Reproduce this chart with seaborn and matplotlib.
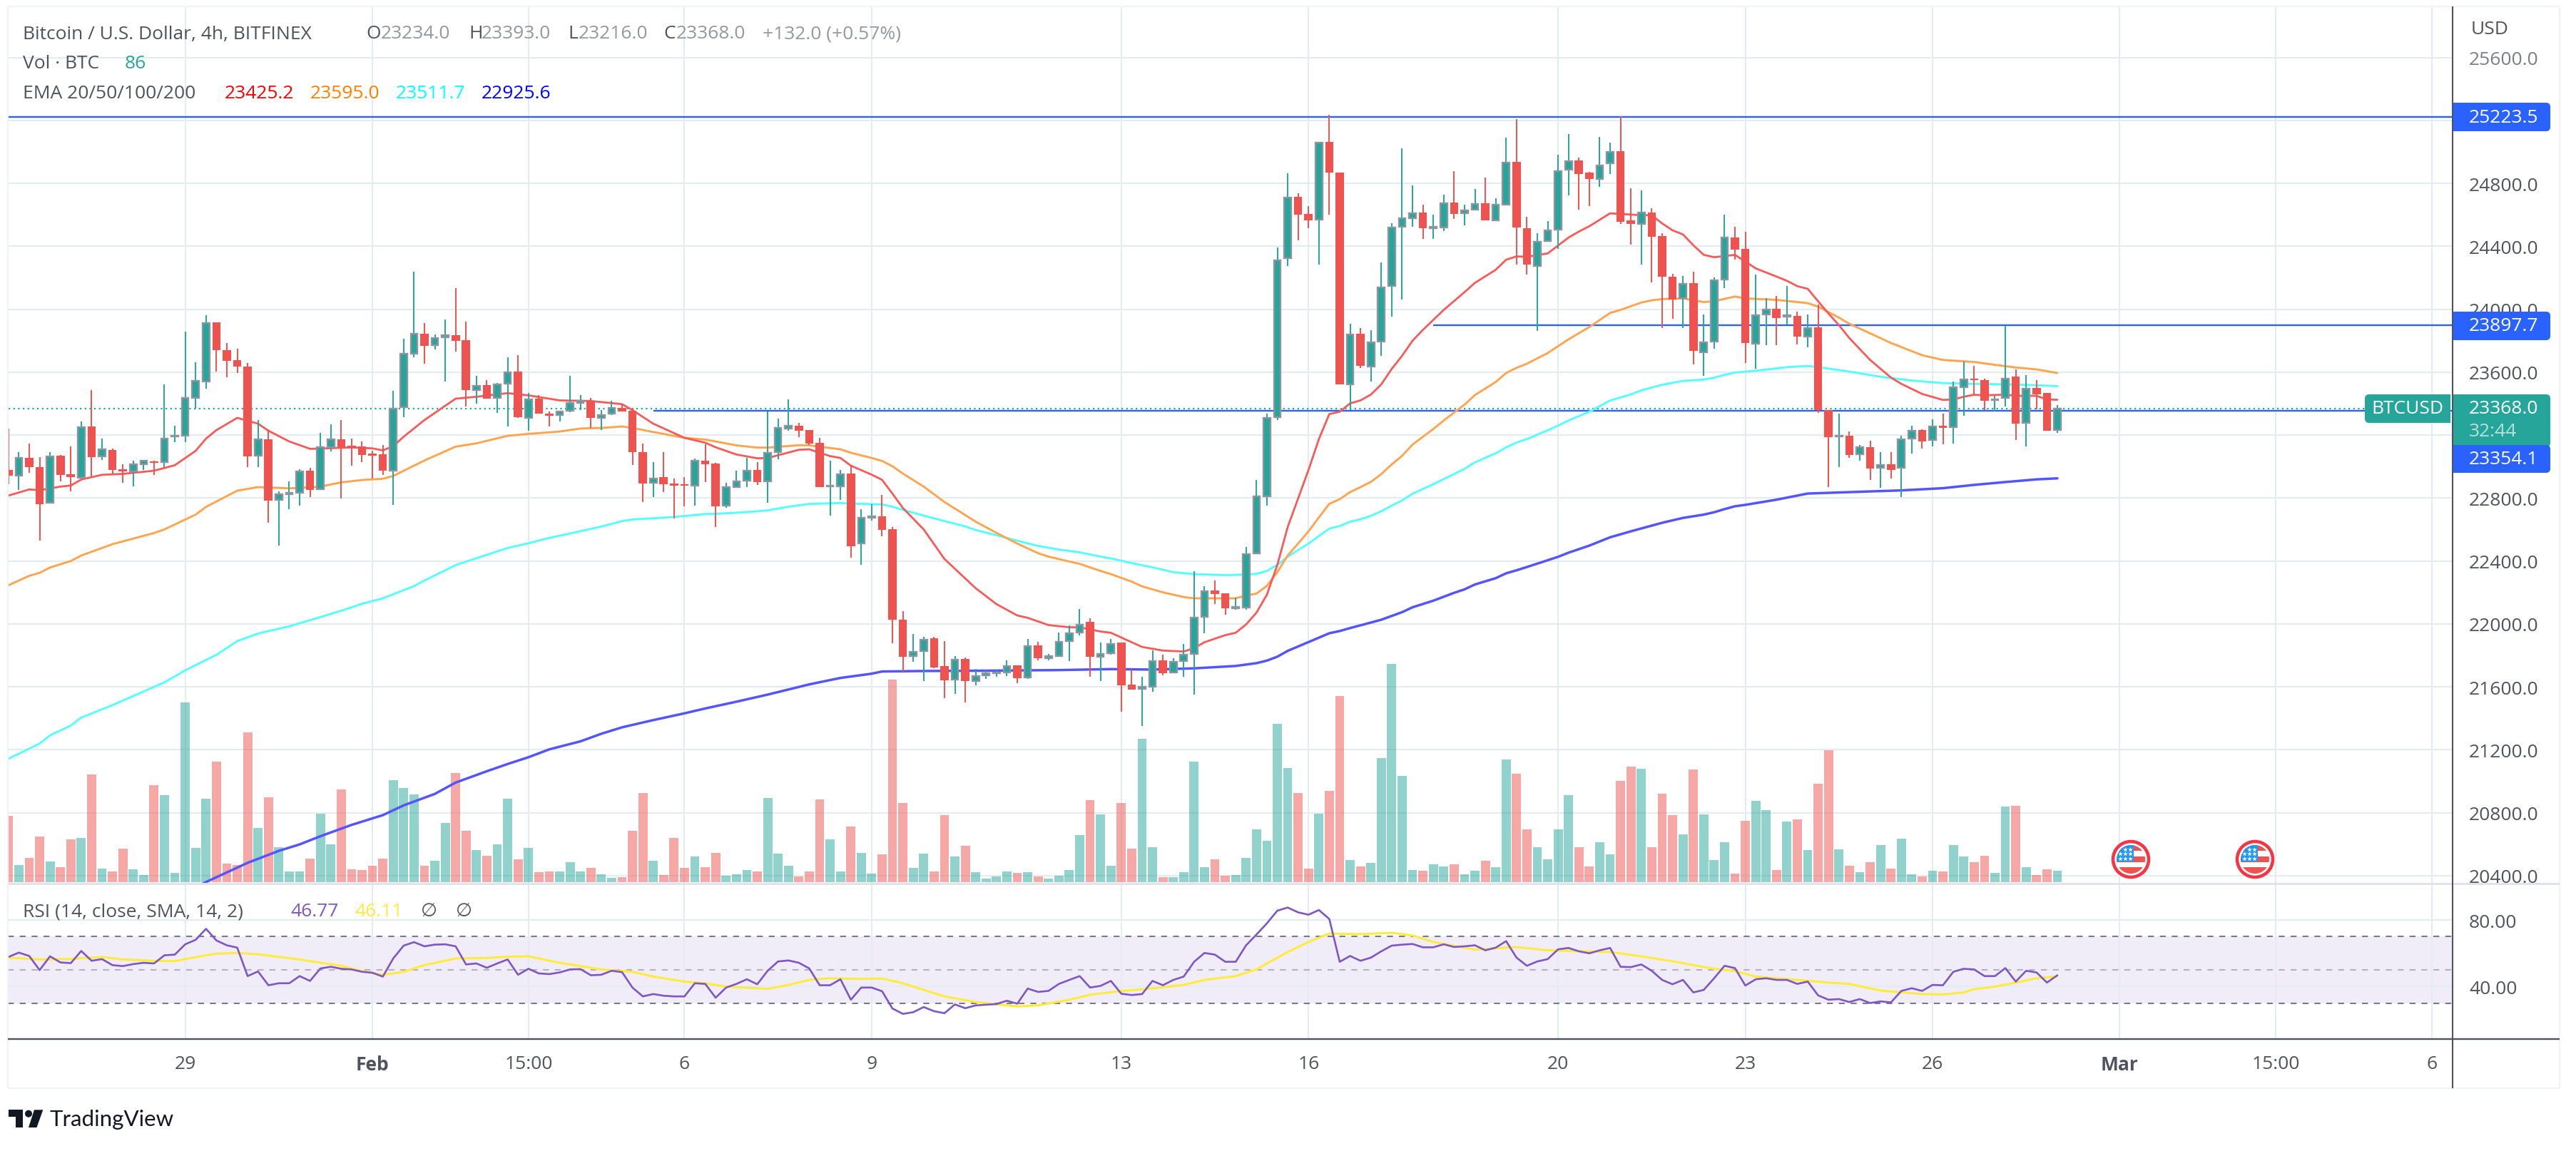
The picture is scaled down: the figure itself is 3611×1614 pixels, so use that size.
import numpy as np
import pandas as pd
import matplotlib
matplotlib.use("Agg")
import matplotlib.pyplot as plt
from matplotlib.patches import Rectangle, Circle, FancyBboxPatch, Polygon
import seaborn as sns

# ---------- data ----------
first_candle = -17
open_prices = [
22979,22941,23054,22999,22770,23069,22951,22930,23255,23063,
23106,22983,22971,23013,23033,23027,23190,23196,23435,23539,
23917,23740,23677,23636,23069,23172,22787,22826,22832,22973,
22855,23125,23172,23131,23127,23081,23078,22976,23376,23719,
23843,23770,23820,23834,23802,23486,23516,23435,23526,23603,
23308,23432,23335,23326,23353,23406,23417,23311,23335,23374,
23355,23092,22896,22932,22891,22886,22880,23036,23020,22752,
22870,22911,22978,22907,23092,23240,23259,23231,23150,22873,
22873,22955,22511,22674,22684,22603,22027,21796,21828,21910,
21731,21647,21778,21638,21672,21686,21692,21737,21659,21864,
21783,21798,21891,21944,22012,21792,21813,21882,21615,21586,
21601,21767,21693,21764,21808,22045,22212,22193,22100,22103,
22450,22813,23314,24324,24714,24606,24568,25063,24870,23522,
23845,23635,23793,24147,24525,24577,24615,24516,24518,24678,
24610,24632,24672,24567,24667,24936,24514,24277,24435,24508,
24889,24945,24867,24830,24926,25005,24565,24542,24615,24464,
24209,24069,24166,23727,23795,24188,24456,24384,23779,23968,
24001,23953,23958,23826,23885,23358,23190,23196,23080,23122,
22992,23013,22992,23177,23231,23169,23259,23252,23505,23559,
23552,23422,23436,23571,23276,23500,23467,23234]
high_prices = [
23240,23092,23145,23060,23092,23075,23127,23287,23486,23178,
23115,23013,23038,23042,23038,23522,23260,23858,23663,23962,
23917,23784,23749,23658,23294,23236,22843,22906,22983,22992,
23214,23269,23294,23178,23160,23100,23136,23482,23813,24239,
23912,23840,23933,24134,23920,23575,23548,23530,23693,23708,
23467,23455,23349,23356,23575,23455,23435,23359,23417,23402,
23371,23145,23029,23092,22923,22932,23051,23142,23024,22896,
22975,23056,23027,23349,23306,23427,23276,23231,23181,23036,
22978,23005,22730,22763,22820,22616,22082,21937,21919,21919,
21891,21796,21789,21713,21704,21707,21767,21737,21903,21885,
21810,21944,21990,22095,22036,21881,21903,21882,21710,21665,
21831,21804,21783,21873,22336,22239,22277,22193,22169,22488,
22916,23335,24393,24863,24737,24655,25061,25236,24870,23907,
23881,23868,24298,24549,25023,24787,24667,24601,24728,24879,
24665,24764,24837,24705,25090,25208,24587,24483,24561,24983,
25113,24962,24875,25096,25059,25226,24769,24756,24641,24482,
24225,24211,24237,23965,24204,24601,24525,24492,24221,24070,
24084,24147,23986,23966,24031,23358,23335,23222,23137,23163,
23092,23092,23196,23262,23236,23300,23335,23543,23670,23640,
23557,23450,23895,23618,23581,23550,23470,23393]
low_prices = [
22890,22853,22961,22531,22765,22906,22843,22926,22936,23042,
22953,22899,22876,22979,22948,22997,23155,23157,23368,23495,
23604,23568,23595,22997,22997,22643,22498,22729,22752,22806,
22855,23097,22797,23006,23029,22923,22945,22757,23314,23696,
23655,23746,23542,23731,23384,23402,23432,23341,23255,23311,
23229,23337,23255,23287,23346,23361,23246,23231,23326,23352,
23012,22775,22806,22838,22669,22749,22752,22903,22617,22740,
22870,22870,22884,22771,23045,23228,23189,23137,22872,22691,
22790,22423,22378,22657,22559,21879,21698,21760,21639,21719,
21529,21556,21499,21610,21653,21665,21671,21625,21653,21767,
21770,21798,21764,21929,21665,21635,21805,21443,21585,21353,
21567,21675,21689,21665,21551,21941,22126,22058,22091,22091,
22450,22752,23297,24277,24440,24514,24286,24601,23522,23358,
23625,23543,23705,23953,24060,24525,24449,24447,24499,24574,
24534,24632,24563,24560,24667,24282,24221,23864,24428,24384,
24724,24632,24655,24778,24861,24541,24410,24282,24173,23883,
23942,23883,23651,23578,23751,24135,24315,23661,23623,23774,
23774,23904,23777,23758,23340,22872,22999,23058,23037,22915,
22867,22924,22808,23084,23115,23127,23144,23146,23323,23453,
23361,23349,23384,23170,23130,23366,23228,23216]
close_prices = [
22944,23054,22998,22763,23066,22948,22933,23249,23062,23109,
22979,22970,23013,23036,23025,23180,23196,23435,23544,23911,
23742,23674,23636,23066,23172,22785,22826,22832,22971,22853,
23125,23172,23125,23119,23074,23071,22974,23370,23719,23846,
23769,23819,23834,23800,23488,23515,23433,23522,23601,23316,
23429,23337,23323,23352,23406,23418,23311,23326,23374,23352,
23092,22894,22926,22889,22880,22877,23036,23016,22748,22869,
22908,22976,22904,23089,23245,23259,23228,23148,22872,22878,
22953,22496,22677,22683,22600,22029,21793,21825,21902,21725,
21644,21775,21635,21671,21686,21693,21734,21656,21861,21783,
21798,21888,21943,21997,21793,21811,21875,21612,21585,21600,
21764,21689,21761,21805,22042,22209,22190,22100,22109,22443,
22813,23311,24312,24710,24603,24567,25061,24870,23522,23842,
23642,23791,24140,24521,24580,24612,24516,24525,24676,24608,
24629,24671,24567,24667,24934,24521,24282,24428,24502,24880,
24943,24861,24830,24915,25002,24558,24541,24613,24462,24209,
24064,24164,23738,23791,24185,24457,24379,23786,23963,23998,
23946,23961,23828,23883,23358,23189,23196,23075,23125,22990,
23011,22981,23176,23228,23162,23255,23248,23505,23555,23550,
23418,23429,23561,23274,23496,23460,23228,23368]
volumes = [
204,52,74,140,63,46,131,136,331,41,
33,103,39,22,298,267,28,552,105,256,
370,57,52,460,166,261,107,33,33,72,
210,116,285,39,37,50,72,313,289,270,
50,66,182,335,158,98,81,116,256,70,
105,30,33,33,61,33,44,24,14,16,
158,274,66,22,136,44,79,46,90,20,
24,37,33,259,87,50,18,33,254,131,
33,171,90,26,85,623,243,44,87,33,
206,79,112,30,11,18,33,28,30,17,
11,20,37,145,252,208,50,243,103,441,
107,15,15,30,370,46,70,20,22,74,
162,127,487,351,274,41,210,280,572,68,
48,59,381,671,327,37,35,55,48,55,
24,35,66,46,377,333,162,107,70,162,
267,107,48,123,85,311,355,348,107,272,
206,147,346,208,68,123,26,188,250,221,
37,186,193,98,302,405,101,50,30,61,
114,41,134,24,17,35,33,114,79,61,
81,28,232,234,46,22,39,35]
rsi_values = [
57.8,60.4,58.4,49.9,58.2,54.5,54.1,61.4,55.5,56.5,
52.9,52.3,53.5,54.3,53.9,58.8,59.2,65.4,68.1,74.7,
67.7,64.8,63.4,46.3,49.1,40.8,42.0,42.0,46.3,43.4,
50.9,51.9,50.7,50.3,48.9,48.3,46.0,56.9,64.6,66.7,
64.2,65.2,65.4,64.2,53.3,53.9,51.3,53.9,56.3,47.1,
50.7,47.9,47.5,48.5,50.3,50.5,46.8,47.1,49.5,48.7,
39.4,34.1,35.5,34.5,34.1,34.1,42.0,41.6,33.3,39.4,
41.6,44.4,41.4,49.5,55.1,55.7,54.3,50.9,40.8,40.8,
44.4,32.1,39.4,39.4,37.2,26.8,23.6,24.6,27.7,25.2,
24.0,29.3,27.0,28.7,29.1,29.5,31.5,29.7,38.8,36.8,
37.4,41.6,44.0,46.3,39.4,40.4,43.4,35.7,34.9,35.5,
43.4,40.8,44.0,46.0,54.9,60.2,59.2,54.9,54.9,64.8,
71.3,78.0,85.6,87.5,84.6,83.2,86.0,80.6,54.9,58.4,
55.5,57.4,61.2,64.6,65.2,65.6,63.6,63.6,65.4,63.8,
64.2,64.8,61.8,63.4,67.3,57.4,52.5,55.1,56.5,62.4,
63.2,61.2,60.0,61.8,63.2,51.9,51.7,53.3,49.5,44.0,
41.4,44.0,36.5,38.0,45.0,52.5,51.1,40.6,44.4,45.0,
44.0,44.0,41.6,43.0,34.7,32.1,32.5,30.7,32.5,30.1,
31.1,30.5,37.4,39.0,37.4,41.0,40.8,48.9,50.7,50.3,
46.3,46.3,51.1,43.0,49.5,48.5,42.4,46.77]

ema20_points = [(-17,22816),(-15,22855),(-14,22850),(-12,22873),(-11,22880),(-10,22918),(-8,22948),(-6,22954),(-3,22974),(-1,23009),
(1,23100),(2,23178),(3,23232),(5,23310),(7,23273),(8,23228),(10,23160),(12,23113),(13,23115),(16,23122),(18,23116),(19,23103),
(20,23130),(21,23190),(23,23296),(26,23432),(28,23444),(31,23467),(33,23453),(36,23421),(39,23417),(42,23397),(43,23359),(45,23273),
(48,23183),(50,23152),(51,23123),(53,23077),(55,23053),(56,23055),(59,23107),(60,23110),(62,23067),(63,23055),(64,23006),(66,22949),
(67,22916),(68,22828),(69,22737),(71,22601),(73,22413),(76,22227),(78,22126),(80,22054),(81,22039),(83,21993),(85,21979),(86,21979),
(88,21952),(89,21944),(91,21884),(92,21854),(94,21831),(96,21825),(97,21846),(98,21884),(100,21929),(101,21944),(102,21997),(103,22072),
(104,22186),(105,22375),(106,22616),(107,22798),(108,22979),(109,23175),(110,23334),(111,23349),(112,23402),(113,23421),(114,23458),
(115,23523),(116,23621),(117,23705),(118,23800),(119,23869),(121,23996),(123,24109),(124,24168),(126,24251),(127,24315),(128,24336),
(129,24334),(131,24355),(133,24456),(134,24494),(135,24528),(137,24610),(138,24606),(140,24598),(141,24598),(142,24546),(143,24502),
(144,24476),(145,24407),(146,24346),(147,24331),(149,24346),(150,24303),(151,24260),(153,24208),(154,24181),(155,24147),(156,24130),
(157,24051),(158,23973),(159,23899),(160,23817),(162,23678),(164,23566),(165,23526),(167,23462),(169,23424),(170,23427),(171,23444),
(172,23457),(173,23453),(175,23458),(176,23450),(178,23450),(179,23427),(180,23425.2)]
ema50_points = [(-17,22246),(-15,22306),(-14,22325),(-13,22359),(-11,22400),(-10,22435),(-7,22507),(-3,22578),(-2,22601),(1,22695),(2,22744),
(5,22847),(7,22870),(10,22862),(11,22865),(13,22873),(15,22900),(17,22915),(19,22923),(20,22941),(23,23039),(26,23127),(28,23148),(31,23196),
(33,23208),(36,23223),(38,23242),(40,23246),(42,23255),(43,23246),(45,23220),(48,23183),(50,23172),(51,23160),(53,23135),(55,23121),(56,23121),
(59,23136),(60,23135),(63,23110),(64,23088),(66,23055),(67,23036),(68,23002),(69,22956),(71,22873),(73,22775),(75,22692),(76,22650),(78,22579),
(80,22511),(82,22450),(83,22428),(85,22397),(86,22382),(88,22337),(89,22317),(91,22269),(92,22239),(94,22201),(96,22171),(97,22163),(101,22163),
(102,22181),(103,22193),(104,22242),(105,22329),(106,22435),(107,22511),(108,22589),(109,22677),(110,22764),(111,22793),(112,22838),(113,22870),
(114,22903),(115,22953),(116,23014),(117,23069),(118,23140),(119,23190),(120,23239),(121,23293),(122,23344),(123,23394),(124,23455),(125,23496),
(126,23538),(127,23595),(128,23628),(129,23654),(131,23722),(133,23809),(135,23887),(137,23977),(138,23996),(140,24043),(141,24057),(142,24065),
(144,24069),(146,24046),(147,24051),(149,24081),(150,24069),(153,24060),(156,24039),(157,24017),(159,23947),(160,23908),(164,23786),(167,23708),
(169,23678),(172,23665),(174,23647),(176,23630),(178,23618),(180,23595.0)]
ema100_points = [(-17,21143),(-14,21240),(-13,21292),(-11,21354),(-10,21405),(-7,21484),(-2,21629),(0,21705),(3,21804),(5,21891),(7,21939),(10,21985),
(12,22024),(15,22084),(17,22128),(19,22163),(20,22189),(22,22241),(23,22276),(26,22374),(31,22483),(33,22513),(35,22547),(37,22575),(40,22619),
(42,22654),(43,22664),(45,22672),(47,22680),(49,22692),(50,22699),(51,22700),(53,22707),(55,22716),(56,22722),(58,22745),(60,22763),(63,22769),
(64,22765),(67,22760),(68,22745),(69,22725),(71,22689),(73,22654),(75,22620),(76,22597),(78,22564),(80,22529),(82,22496),(84,22473),(86,22455),
(88,22428),(89,22417),(91,22387),(93,22360),(95,22329),(97,22317),(100,22310),(102,22314),(103,22319),(104,22337),(105,22375),(106,22427),(107,22470),
(108,22511),(109,22559),(110,22606),(111,22622),(112,22650),(113,22666),(114,22687),(115,22717),(116,22752),(117,22785),(118,22828),(119,22858),
(120,22888),(121,22921),(122,22953),(123,22986),(124,23027),(126,23085),(127,23122),(128,23153),(129,23175),(131,23231),(132,23261),(133,23293),
(135,23349),(137,23420),(139,23459),(140,23485),(142,23520),(144,23545),(146,23553),(147,23565),(148,23583),(149,23598),(151,23609),(154,23632),
(156,23640),(158,23623),(160,23604),(163,23571),(166,23547),(169,23531),(172,23526),(176,23522),(180,23511.7)]
ema200_points = [(1,20325),(2,20360),(6,20482),(9,20558),(11,20599),(13,20651),(16,20723),(19,20785),(21,20847),(24,20920),(26,20992),(29,21064),
(31,21110),(33,21153),(35,21203),(38,21254),(40,21302),(42,21343),(45,21389),(48,21432),(50,21463),(53,21506),(56,21551),(60,21616),(63,21657),
(66,21684),(67,21698),(71,21701),(77,21703),(84,21707),(89,21713),(93,21710),(97,21718),(101,21733),(103,21751),(104,21767),(105,21792),(106,21829),
(108,21885),(110,21941),(111,21955),(112,21974),(114,22009),(115,22027),(117,22075),(118,22106),(120,22148),(122,22198),(123,22220),(124,22251),
(126,22291),(127,22322),(128,22341),(129,22362),(131,22405),(132,22427),(133,22453),(135,22498),(137,22551),(139,22589),(142,22643),(144,22674),
(146,22695),(147,22710),(148,22730),(149,22748),(150,22757),(153,22790),(156,22829),(160,22838),(165,22849),(169,22863),(172,22884),(175,22902),
(178,22919),(180,22925.6)]
rsi_sma_points = [(-17,57.4),(-14,56.3),(-11,56.6),(-8,57.8),(-6,56.3),(-3,55.5),(-1,55.3),(2,58.8),(3,59.8),(5,60.2),(7,59.4),(11,56.3),(12,55.3),
(15,52.5),(17,49.3),(19,47.0),(21,48.9),(23,52.9),(26,56.9),(29,57.2),(31,58.0),(33,58.2),(36,54.3),(40,50.3),(43,48.9),(45,46.0),(48,43.0),(50,42.0),
(52,40.0),(56,38.6),(58,41.0),(60,44.0),(62,45.0),(64.5,44.6),(67,44.8),(69,42.0),(71,38.0),(73,34.1),(76,30.7),(78,29.3),(80,28.1),(82,28.7),(85,32.1),
(87,35.1),(90,37.4),(92.5,38.6),(96,41.0),(98,44.0),(101,46.3),(103,50.3),(104,53.9),(106,60.8),(108,66.8),(110,71.9),(113,71.5),(116,72.3),(118,70.7),
(120,66.8),(124,62.2),(128,63.8),(131,61.8),(134,61.2),(137,60.8),(140,58.2),(143,55.2),(145,52.9),(146.8,50.9),(149,49.3),(151,46.0),(155,44.0),
(158,42.4),(160,41.6),(163,37.6),(167,35.5),(169,35.3),(171,36.5),(172,38.4),(174,40.0),(176,42.4),(178,45.0),(180,46.11)]

price_ticks = list(range(20400, 25601, 400))
hidden_price_labels = [25200, 23200]
time_tick_pos = [0, 18, 33, 48, 66, 90, 108, 132, 150, 168, 186, 201, 216]
time_tick_labels = ["29", "Feb", "15:00", "6", "9", "13", "16", "20", "23", "26", "Mar", "15:00", "6"]
drawn_levels = [(25223.5, -17), (23897.7, 120), (23354.1, 45)]
last_close = 23368.0

# ---------- style ----------
sns.set_theme(style="white")
plt.rcParams["font.family"] = ["Open Sans", "DejaVu Sans"]
W, H, DPI = 3612, 1615, 100
FS = 19
DARK, GRAY = "#50535e", "#9598a1"
GREEN, RED, BLUE = "#26a69a", "#ef5350", "#2962ff"
GRID = "#e4ecf2"

fig = plt.figure(figsize=(W / DPI, H / DPI), dpi=DPI, facecolor="white")

def pane(l, t, r, b, z):
    a = fig.add_axes([l / W, 1 - b / H, (r - l) / W, (b - t) / H])
    a.set_zorder(z)
    return a

ax = pane(11.5, 10, 3438, 1240, 1)
ax_rsi = pane(11.5, 1240, 3438, 1457.7, 1)
ax_vol = pane(11.5, 10, 3438, 1240, 2)
ax_c = pane(11.5, 10, 3438, 1240, 3)
XLIM = (-17.02, 218.0)
YLIM = (20350, 25925)

idx = np.arange(first_candle, first_candle + len(open_prices))
df = pd.DataFrame(dict(idx=idx, o=open_prices, h=high_prices, l=low_prices, c=close_prices,
                       vol=volumes, rsi=rsi_values))
df["dir"] = np.where(df.c >= df.o, "up", "down")

# grid / axis panes
for a in (ax, ax_rsi):
    a.set_xlim(*XLIM)
    a.set_xticks(time_tick_pos)
    a.grid(True, color=GRID, lw=1.5)
    a.set_axisbelow(True)
    for s in a.spines.values():
        s.set_visible(False)
    a.yaxis.tick_right()
    a.tick_params(length=0, labelsize=FS, labelcolor=DARK, pad=16.5)
ax.set_ylim(*YLIM)
ax.set_yticks(price_ticks)
ax.set_yticklabels(["" if p in hidden_price_labels else f"{p:.1f}" for p in price_ticks])
ax.tick_params(axis="x", labelbottom=False)
for lab in ax.get_yticklabels():
    if lab.get_text() == "25600.0":
        lab.set_alpha(0.75)
ax_rsi.set_ylim(8.6, 101.9)
ax_rsi.set_yticks([40, 80])
ax_rsi.set_yticklabels(["40.00", "80.00"])
ax_rsi.set_xticklabels(time_tick_labels)
ax_rsi.tick_params(axis="x", pad=16)
for lab in ax_rsi.get_xticklabels():
    if lab.get_text() in ("Feb", "Mar"):
        lab.set_fontweight("bold")

# volume
sns.barplot(data=df, x="idx", y="vol", hue="dir", palette={"up": GREEN, "down": RED},
            native_scale=True, dodge=False, width=0.88, alpha=0.5, linewidth=0,
            saturation=1, legend=False, ax=ax_vol)
ax_vol.set_xlim(*XLIM)
ax_vol.set_ylim(-4.4, 2693)
ax_vol.axis("off")

# levels, EMAs, candles
ax_c.set_xlim(*XLIM)
ax_c.set_ylim(*YLIM)
for lvl, start in drawn_levels:
    ax_c.hlines(lvl, start, XLIM[1], color=BLUE, lw=1.7, zorder=1)
ax_c.hlines(last_close, XLIM[0], 209.6, color=GREEN, lw=1.6, linestyles=[(0, (1, 2))], zorder=1)
for pts, col, lw in [(ema200_points, "#5555ff", 2.5), (ema100_points, "#55ffff", 2.1),
                     (ema50_points, "#ffa550", 2.1), (ema20_points, "#f85a5a", 2.0)]:
    xs, ys = zip(*pts)
    sns.lineplot(x=list(xs), y=list(ys), color=col, lw=lw, sort=False, errorbar=None,
                 legend=False, ax=ax_c, zorder=2)
up = df[df.dir == "up"]
down = df[df.dir == "down"]
ax_c.vlines(up.idx, up.l, up.h, color=GREEN, lw=1.4, zorder=3)
ax_c.vlines(down.idx, down.l, down.h, color=RED, lw=1.4, zorder=3)
ax_c.bar(down.idx, down.c - down.o, bottom=down.o, width=0.8, color=RED, linewidth=0, zorder=4)
ax_c.bar(up.idx, up.c - up.o, bottom=up.o, width=0.66, color=GREEN,
         edgecolor="#8f949e", linewidth=1.7, zorder=4)
ax_c.set_xlabel(""); ax_c.set_ylabel("")
ax_c.axis("off")

# RSI pane
ax_rsi.axhspan(30, 70, color="#7e57c2", alpha=0.1, lw=0, zorder=0.5)
for lev, col in [(70, "#787b86"), (30, "#787b86"), (50, "#b4b2bc")]:
    ax_rsi.axhline(lev, color=col, lw=1.5, ls=(0, (4, 4)), zorder=1)
sns.lineplot(x=df.idx.values, y=rsi_values, color="#7e57c2", lw=1.9, errorbar=None,
             legend=False, ax=ax_rsi, zorder=3)
xs, ys = zip(*rsi_sma_points)
sns.lineplot(x=list(xs), y=list(ys), color="#ffeb3b", lw=2.2, sort=False, errorbar=None,
             legend=False, ax=ax_rsi, zorder=2)
ax_rsi.set_xlabel(""); ax_rsi.set_ylabel("")

# ---------- chrome in a pixel overlay ----------
ov = fig.add_axes([0, 0, 1, 1])
ov.set_zorder(10)
ov.set_xlim(0, W); ov.set_ylim(H, 0)
ov.axis("off")

def rule(x0, y0, x1, y1, c, lw):
    ov.plot([x0, x1], [y0, y1], color=c, lw=lw, solid_capstyle="butt")

rule(11.5, 10, 3588, 10, "#f0f3fa", 1.6)
rule(11.5, 1527, 3588, 1527, "#f0f3fa", 1.6)
rule(11.5, 10, 11.5, 1527, "#f0f3fa", 1.6)
rule(3588, 10, 3588, 1527, "#f0f3fa", 1.6)
rule(11.5, 1240, 3588, 1240, "#e0e3eb", 2.2)
rule(3438, 10, 3438, 1527, DARK, 1.5)
rule(11.5, 1457.7, 3588, 1457.7, DARK, 1.7)

def txt(x, y, s, c=DARK, fs=FS, **kw):
    kw.setdefault("va", "center")
    kw.setdefault("ha", "left")
    return ov.text(x, y, s, color=c, fontsize=fs, **kw)

# legends
txt(32, 48, "Bitcoin / U.S. Dollar, 4h, BITFINEX")
for x, s, c in [(513, "O", DARK), (534, "23234.0", GRAY), (657, "H", DARK), (675, "23393.0", GRAY),
                (796, "L", DARK), (811, "23216.0", GRAY), (930, "C", DARK), (948, "23368.0", GRAY),
                (1069, "+132.0 (+0.57%)", GRAY)]:
    txt(x, 48, s, c)
txt(32, 90, "Vol · BTC")
txt(175, 90, "86", GREEN)
txt(32, 132, "EMA 20/50/100/200")
for x, s, c in [(315, "23425.2", "#ff0000"), (435, "23595.0", "#ff8000"),
                (555, "23511.7", "#00ffff"), (675, "22925.6", "#0000ff")]:
    txt(x, 132, s, c)
txt(32, 1279, "RSI (14, close, SMA, 14, 2)")
txt(407, 1279, "46.77", "#7e57c2")
txt(497, 1279, "46.11", "#ffeb3b")
txt(590, 1279, "∅")
txt(639, 1279, "∅")
txt(3464, 42, "USD")

# price badges
def badge(x0, y0, x1, y1, c):
    ov.add_patch(FancyBboxPatch((x0, y0), x1 - x0, y1 - y0, boxstyle="round,pad=0,rounding_size=6",
                                fc=c, ec="none"))

for y0, y1, s in [(145, 185, "25223.5"), (438, 478, "23897.7")]:
    ov.add_patch(Rectangle((3438, y0), 20, y1 - y0, fc=BLUE, ec="none"))
    badge(3438, y0, 3575, y1, BLUE)
    txt(3461, (y0 + y1) / 2, s, "white")
badge(3438, 554, 3575, 628, GREEN)
ov.add_patch(Rectangle((3438, 554), 20, 74, fc=GREEN, ec="none"))
txt(3461, 574, "23368.0", "white")
txt(3461, 606, "32:44", "#b7e1dc")
badge(3438, 625, 3575, 664, BLUE)
ov.add_patch(Rectangle((3438, 625), 20, 39, fc=BLUE, ec="none"))
txt(3461, 645, "23354.1", "white")
badge(3315, 554, 3435, 594, GREEN)
ov.add_patch(Rectangle((3425, 554), 10, 40, fc=GREEN, ec="none"))
txt(3375, 574, "BTCUSD", "white", ha="center")

# event flags
def flag(cx, cy):
    ov.add_patch(Circle((cx, cy), 25, fc="white", ec="#f23645", lw=3.3))
    clip = Circle((cx, cy), 20, fc="white", ec="none")
    ov.add_patch(clip)
    stripes = [(-20, 40, 8, RED), (-4, 40, 8, RED), (11, 40, 9, RED)]
    for y0, w, h, c in stripes:
        r = Rectangle((cx - 20, cy + y0), w, h, fc=c, ec="none")
        ov.add_patch(r)
        r.set_clip_path(clip)
    canton = Rectangle((cx - 20, cy - 20), 24, 23, fc="#2196f3", ec="none")
    ov.add_patch(canton)
    canton.set_clip_path(clip)
    ov.scatter([cx - 8, cx - 1, cx - 15, cx - 8, cx - 1, cx - 15, cx - 8, cx - 1],
               [cy - 14, cy - 14, cy - 8, cy - 8, cy - 8, cy - 1, cy - 1, cy - 1],
               marker="*", s=26, color="white", linewidths=0, zorder=5)

flag(2987, 1206)
flag(3161, 1206)

# TradingView logo
LOGO = "#131722"
ov.add_patch(Polygon([(12.3, 1557.3), (32, 1557.3), (32, 1582), (22, 1582), (22, 1566.7), (12.3, 1566.7)], fc=LOGO, ec="none"))
ov.add_patch(Circle((40, 1562.7), 5, fc=LOGO, ec="none"))
ov.add_patch(Polygon([(48, 1557.3), (60.3, 1557.3), (51.5, 1582), (40, 1582)], fc=LOGO, ec="none"))
ov.text(70, 1570, "TradingView", color=LOGO, fontsize=22.5, family=["Lato", "DejaVu Sans"], va="center", ha="left")

fig.savefig("out.png", dpi=DPI, facecolor="white")
